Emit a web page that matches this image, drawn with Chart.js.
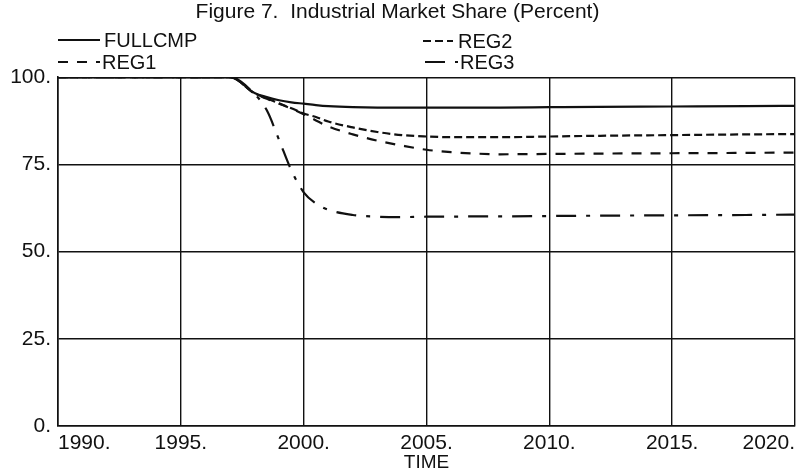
<!DOCTYPE html>
<html>
<head>
<meta charset="utf-8">
<script src="https://cdn.jsdelivr.net/npm/chart.js@4.4.1/dist/chart.umd.min.js"></script>
<style>
  body { margin: 0; background: #fff; }
  #wrap { width: 806px; height: 475px; }
</style>
</head>
<body>
<div id="wrap"><canvas id="myChart"></canvas></div>
<script>
// values
const years   = [1990, 1995, 1997, 1998, 1998.5, 1999, 1999.5, 2000, 2000.5, 2001, 2002, 2003, 2004, 2005, 2006, 2007, 2008, 2010, 2012, 2015, 2018, 2020];
const fullcmp = [100, 100, 100, 95.5, 94.3, 93.4, 92.8, 92.4, 92.0, 91.7, 91.4, 91.3, 91.3, 91.3, 91.3, 91.3, 91.3, 91.4, 91.5, 91.6, 91.7, 91.8];
const reg1    = [100, 100, 100, 95.3, 93.8, 92.4, 91.0, 89.4, 87.6, 85.9, 83.6, 81.8, 80.4, 79.2, 78.5, 78.1, 77.9, 78.0, 78.1, 78.2, 78.3, 78.4];
const reg2    = [100, 100, 100, 95.4, 93.9, 92.5, 91.1, 89.6, 88.6, 87.3, 85.6, 84.3, 83.4, 83.0, 82.8, 82.8, 82.8, 83.0, 83.2, 83.4, 83.6, 83.7];
const reg3    = [100, 100, 100, 95.2, 90.5, 82.0, 73.3, 67.0, 63.8, 62.0, 60.5, 60.0, 59.9, 60.0, 60.0, 60.1, 60.1, 60.2, 60.3, 60.4, 60.5, 60.6];
const seriesNames = ['FULLCMP', 'REG1', 'REG2', 'REG3'];

const ink = '#111';
const fnt = "'Liberation Sans', Arial, sans-serif";

function pts(vals) {
  return years.map((y, i) => ({ x: y, y: vals[i] }));
}

function serie(name, vals, dash) {
  return {
    label: name,
    data: pts(vals),
    borderColor: ink,
    borderWidth: 2.2,
    borderDash: dash,
    pointRadius: 0,
    fill: false,
    cubicInterpolationMode: 'monotone'
  };
}

// legend in two columns, like the original
const legendPos = [
  { x1: 58,  x2: 100, tx: 104, y: 40 },
  { x1: 58,  x2: 100, tx: 102, y: 62 },
  { x1: 423, x2: 453, tx: 458, y: 41 },
  { x1: 425, x2: 458, tx: 460, y: 62 }
];

const legendPlugin = {
  id: 'twoColLegend',
  afterDraw(chart) {
    const c = chart.ctx;
    c.save();
    chart.data.datasets.forEach((ds, i) => {
      const p = legendPos[i];
      c.strokeStyle = ink;
      c.lineWidth = 2;
      c.setLineDash(ds.borderDash || []);
      c.beginPath();
      c.moveTo(p.x1, p.y);
      c.lineTo(p.x2, p.y);
      c.stroke();
      c.setLineDash([]);
      c.fillStyle = ink;
      c.font = '20px ' + fnt;
      c.textBaseline = 'middle';
      c.textAlign = 'left';
      c.fillText(ds.label, p.tx, p.y + 1);
    });
    c.restore();
  }
};

const ctx = document.getElementById('myChart');
new Chart(ctx, {
  type: 'line',
  data: {
    datasets: [
      serie(seriesNames[0], fullcmp, []),
      serie(seriesNames[1], reg1, [10, 9]),
      serie(seriesNames[2], reg2, [8, 4]),
      serie(seriesNames[3], reg3, [20, 10, 4, 10])
    ]
  },
  options: {
    maintainAspectRatio: false,
    responsive: true,
    animation: false,
    layout: { padding: { left: 0, right: 11, top: 0, bottom: 0 } },
    plugins: {
      legend: { display: false },
      tooltip: { enabled: false },
      title: {
        display: true,
        text: 'Figure 7.  Industrial Market Share (Percent)',
        color: ink,
        font: { family: fnt, size: 21, weight: 'normal', lineHeight: 1.2 },
        padding: { top: 0, bottom: 52 }
      }
    },
    scales: {
      x: {
        type: 'linear',
        min: 1990,
        max: 2020,
        afterFit(scale) { scale.height = 49; },
        ticks: {
          stepSize: 5,
          align: 'inner',
          color: ink,
          padding: 5,
          font: { family: fnt, size: 21 },
          callback: v => v + '.'
        },
        grid: { color: ink, lineWidth: 1.4, drawTicks: false },
        border: { color: ink, width: 1.6 },
        title: {
          display: true,
          text: 'TIME',
          color: ink,
          font: { family: fnt, size: 19 },
          padding: { top: 0, bottom: 1 }
        }
      },
      y: {
        min: 0,
        max: 100,
        afterFit(scale) { scale.width = 58; },
        ticks: {
          stepSize: 25,
          color: ink,
          padding: 7,
          font: { family: fnt, size: 21 },
          callback: v => v + '.'
        },
        grid: { color: ink, lineWidth: 1.4, drawTicks: false },
        border: { color: ink, width: 1.6 }
      }
    }
  },
  plugins: [legendPlugin]
});
</script>
</body>
</html>
